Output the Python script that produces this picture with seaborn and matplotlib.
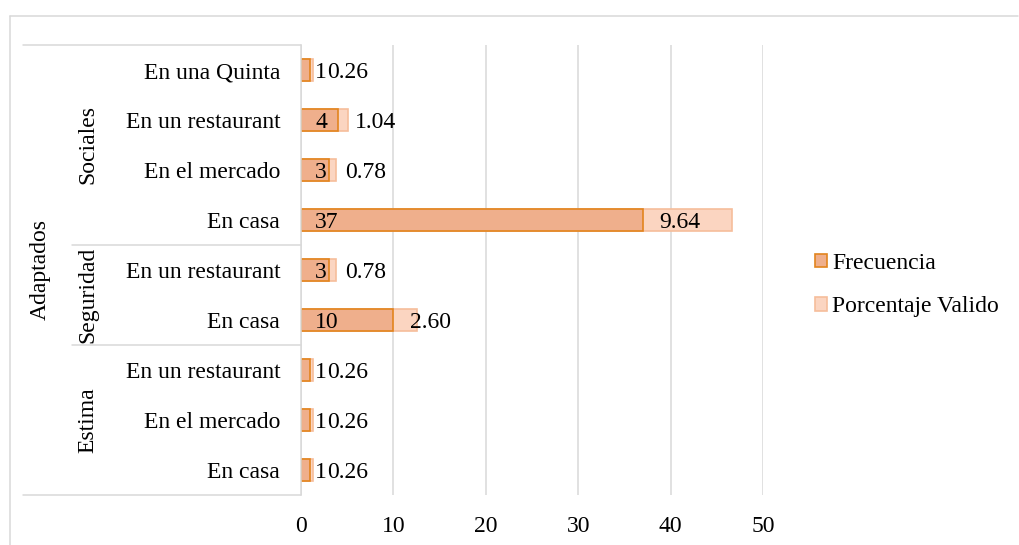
# Frecuencia y porcentaje valido por lugar (Adaptados: Sociales / Seguridad / Estima)

import numpy as np
import pandas as pd
import matplotlib
matplotlib.use("Agg")
import matplotlib.pyplot as plt
import matplotlib.transforms as mtransforms
from matplotlib.patches import Patch
from matplotlib.lines import Line2D
import seaborn as sns


# Data (top row first)
groups = ["Sociales", "Sociales", "Sociales", "Sociales",
          "Seguridad", "Seguridad",
          "Estima", "Estima", "Estima"]
places = ["En una Quinta", "En un restaurant", "En el mercado", "En casa",
          "En un restaurant", "En casa",
          "En un restaurant", "En el mercado", "En casa"]
frecuencia = [1, 4, 3, 37, 3, 10, 1, 1, 1]
porcentaje = [0.26, 1.04, 0.78, 9.64, 0.78, 2.60, 0.26, 0.26, 0.26]
freq_labels = ["1", "4", "3", "37", "3", "10", "1", "1", "1"]
pct_labels = ["0.26", "1.04", "0.78", "9.64", "0.78", "2.60", "0.26", "0.26", "0.26"]
outer_label = "Adaptados"
x_ticks = [0, 10, 20, 30, 40, 50]

df = pd.DataFrame({"grupo": groups, "lugar": places,
                   "frecuencia": frecuencia, "porcentaje": porcentaje})
df["fila"] = df["grupo"] + " | " + df["lugar"]   # unique key per row
df["total"] = df["frecuencia"] + df["porcentaje"]

sns.set_theme(style="white")
plt.rcParams["font.family"] = ["Liberation Serif", "DejaVu Serif"]
plt.rcParams["text.color"] = "black"
FS = 17

FREQ_FACE, FREQ_EDGE = "#EFAF8C", "#E2841E"
PCT_FACE, PCT_EDGE = "#FBD5C1", "#F6BD9B"
GRID = "#D9D9D9"

fig = plt.figure(figsize=(10.19, 5.45), dpi=100)
ax = fig.add_axes([301 / 1019, 50 / 545, 462 / 1019, 450 / 545])

order = list(df["fila"])
# total bar first (porcentaje colour), frecuencia drawn on top -> stacked look
sns.barplot(data=df, x="total", y="fila", order=order, orient="h", ax=ax,
            color=PCT_FACE, edgecolor=PCT_EDGE, linewidth=1.2, width=0.44,
            saturation=1, errorbar=None)
sns.barplot(data=df, x="frecuencia", y="fila", order=order, orient="h", ax=ax,
            color=FREQ_FACE, edgecolor=FREQ_EDGE, linewidth=1.2, width=0.44,
            saturation=1, errorbar=None)

ax.set_xlim(0, 50)
ax.set_ylim(8.5, -0.5)
ax.set_xticks(x_ticks)
ax.set_xticklabels([str(t) for t in x_ticks], fontsize=FS)
ax.set_yticks(range(len(places)))
ax.set_yticklabels(places, fontsize=FS)
ax.tick_params(axis="both", length=0, colors="black")
ax.tick_params(axis="y", pad=15)
ax.tick_params(axis="x", pad=15)
ax.set_xlabel("")
ax.set_ylabel("")
ax.xaxis.grid(True, color=GRID, linewidth=1.1)
ax.set_axisbelow(True)
for side in ["top", "right", "bottom"]:
    ax.spines[side].set_visible(False)
ax.spines["left"].set_color(GRID)
ax.spines["left"].set_linewidth(1.1)

# data labels, "inside base" style: left-aligned a bit after segment start
off_f = 1.55
off_p = 1.8
for i in range(len(places)):
    ax.text(off_f, i, freq_labels[i], ha="left", va="center_baseline",
            fontsize=FS, color="black")
    ax.text(frecuencia[i] + off_p, i, pct_labels[i], ha="left",
            va="center_baseline", fontsize=FS, color="black")

# multi-level category table on the left
trans = mtransforms.blended_transform_factory(ax.transAxes, ax.transData)
x_outer = (23 - 301) / 462
x_inner = (72 - 301) / 462
for y, x0 in [(-0.5, x_outer), (8.5, x_outer), (3.5, x_inner), (5.5, x_inner)]:
    ax.add_line(Line2D([x0, 0], [y, y], transform=trans, color=GRID,
                       linewidth=1.1, clip_on=False))

x_grp = (88 - 301) / 462
x_out = (40 - 301) / 462
group_names = ["Sociales", "Seguridad", "Estima"]
for g in group_names:
    rows = [i for i, name in enumerate(groups) if name == g]
    ax.text(x_grp, np.mean(rows), g, rotation=90, ha="center", va="center",
            fontsize=FS, color="black", transform=trans)
ax.text(x_out, (len(places) - 1) / 2, outer_label, rotation=90, ha="center",
        va="center", fontsize=FS, color="black", transform=trans)

# chart frame (only left and top visible in the crop)
fig.add_artist(Line2D([10 / 1019, 10 / 1019], [0, 1 - 16 / 545],
                      transform=fig.transFigure, color=GRID, linewidth=1.1))
fig.add_artist(Line2D([10 / 1019, 1018 / 1019], [1 - 16 / 545, 1 - 16 / 545],
                      transform=fig.transFigure, color=GRID, linewidth=1.1))

handles = [Patch(facecolor=FREQ_FACE, edgecolor=FREQ_EDGE, linewidth=1.2,
                 label="Frecuencia"),
           Patch(facecolor=PCT_FACE, edgecolor=PCT_EDGE, linewidth=1.2,
                 label="Porcentaje Valido")]
leg = fig.legend(handles=handles, loc="center left",
                 bbox_to_anchor=(806 / 1019, 1 - 285 / 545), frameon=False,
                 fontsize=FS, handlelength=0.5, handleheight=0.5,
                 handletextpad=0.2, labelspacing=0.95, borderaxespad=0)
for t in leg.get_texts():
    t.set_color("black")

fig.savefig("out.png", dpi=100)
